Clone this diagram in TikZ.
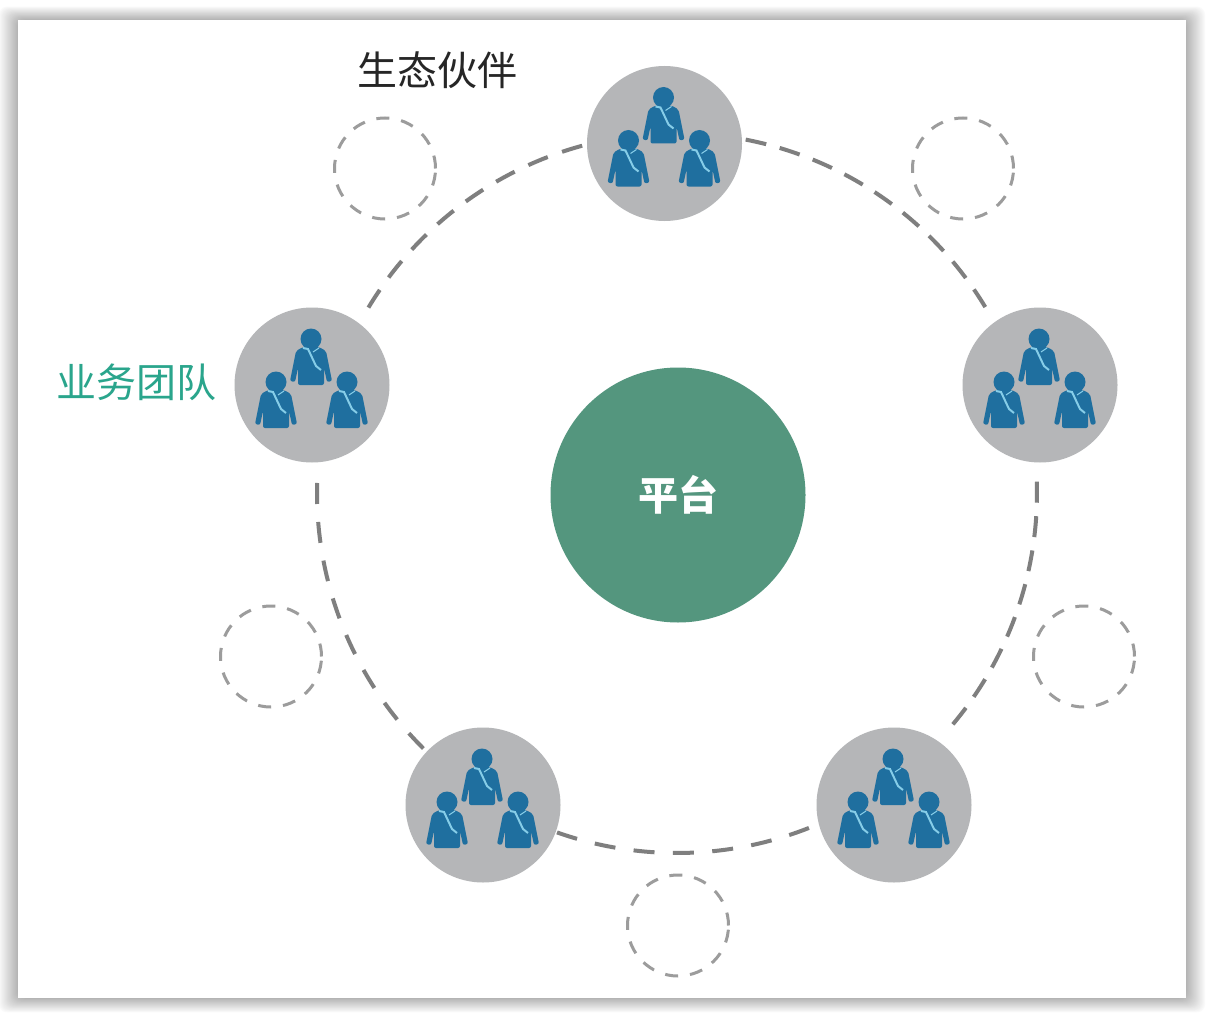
\documentclass[tikz,border=0pt]{standalone}
\usepackage{fontspec}
\usetikzlibrary{calc}
\setmainfont{Noto Sans CJK SC}
\definecolor{teamgray}{HTML}{B5B6B8}
\definecolor{platform}{HTML}{54967E}
\definecolor{people}{HTML}{1F6F9F}
\definecolor{tiecol}{HTML}{86CDE8}
\definecolor{teal}{HTML}{2AA58C}
\definecolor{ringgray}{HTML}{7F7F7F}
\definecolor{slotgray}{HTML}{9C9C9C}
\tikzset{
  teamnode/.style={circle,fill=teamgray,minimum size=155pt,inner sep=0pt,outer sep=0pt},
  slotnode/.style={circle,draw=slotgray,line width=3pt,dash pattern=on 13pt off 12pt,minimum size=101pt,inner sep=0pt},
  ringline/.style={draw=ringgray,line width=4pt,dash pattern=on 21pt off #1pt},
  person/.pic={
    \fill[people] (0,0) circle[radius=10.5pt];
    \fill[people,rounded corners=2pt] (-8,8) -- (8,8) -- (15,12) -- (21,42) -- (16,43) -- (13,29) -- (13,46) -- (-13,46) -- (-13,29) -- (-16,43) -- (-21,42) -- (-15,12) -- cycle;
    \draw[tiecol,line width=2pt] (-8,9) -- (-3,10) -- (5,27) -- (10,31);
    \draw[tiecol,line width=1pt] (8,9) -- (2,13);
  },
  trio/.pic={
    \pic at (-1,-46) {person};
    \pic at (-36,-3) {person};
    \pic at (35,-3) {person};
  },
}
\begin{document}
\begin{tikzpicture}[x=1pt,y=-1pt]
\useasboundingbox (0,0) rectangle (1210,1014);
\fill[white] (0,0) rectangle (1210,1014);
% drop shadow round the panel
\foreach \i in {19,18,...,0}{
  \pgfmathsetmacro{\g}{2+1.5*(19-\i)}
  \fill[black!\g,rounded corners=8pt] (18-\i,20-\i*0.7) rectangle (1186+\i,998+\i*0.75);
}
\fill[white] (18,20) rectangle (1186,998);
% centre and ring start points
\coordinate (c) at (677,493);
\def\R{360}
\foreach \n/\a in {a1/149,b1/79,d1/1.8,e1/-68.5,f1/-134.8}{
  \coordinate (\n) at ($(c)+({\R*cos(\a)},{-\R*sin(\a)})$);
}
% ring segments between the teams
\draw[ringline=15.25] (a1) arc[start angle=149,end angle=99.5,radius=\R pt];
\draw[ringline=14] (b1) arc[start angle=79,end angle=31,radius=\R pt];
\draw[ringline=13.5] (d1) arc[start angle=1.8,end angle=-40,radius=\R pt];
\draw[ringline=18.4] (e1) arc[start angle=-68.5,end angle=-109.5,radius=\R pt];
\draw[ringline=18] (f1) arc[start angle=-134.8,end angle=-181.6,radius=\R pt];
% partner slots
\node[slotnode] (s1) at (385,168.5) {};
\node[slotnode] (s2) at (963,168.5) {};
\node[slotnode] (s3) at (271,656.5) {};
\node[slotnode] (s4) at (1084,656.5) {};
\node[slotnode] (s5) at (678,925.5) {};
% teams
\node[teamnode] (t1) at (664.5,143.5) {};
\node[teamnode] (t2) at (312,385) {};
\node[teamnode] (t3) at (1040,385) {};
\node[teamnode] (t4) at (483,805) {};
\node[teamnode] (t5) at (894,805) {};
\foreach \t in {t1,t2,t3,t4,t5}{ \pic at (\t) {trio}; }
% platform
\node[circle,fill=platform,minimum size=255pt,inner sep=0pt,text=white,font=\fontsize{40pt}{40pt}\selectfont\bfseries] (p) at (678,495) {平台};
% labels
\node[text=black!85,font=\fontsize{40pt}{40pt}\selectfont,inner sep=0pt] (l1) at (437,70) {生态伙伴};
\node[text=teal,font=\fontsize{40pt}{40pt}\selectfont,inner sep=0pt] (l2) at (136,382) {业务团队};
\end{tikzpicture}
\end{document}
